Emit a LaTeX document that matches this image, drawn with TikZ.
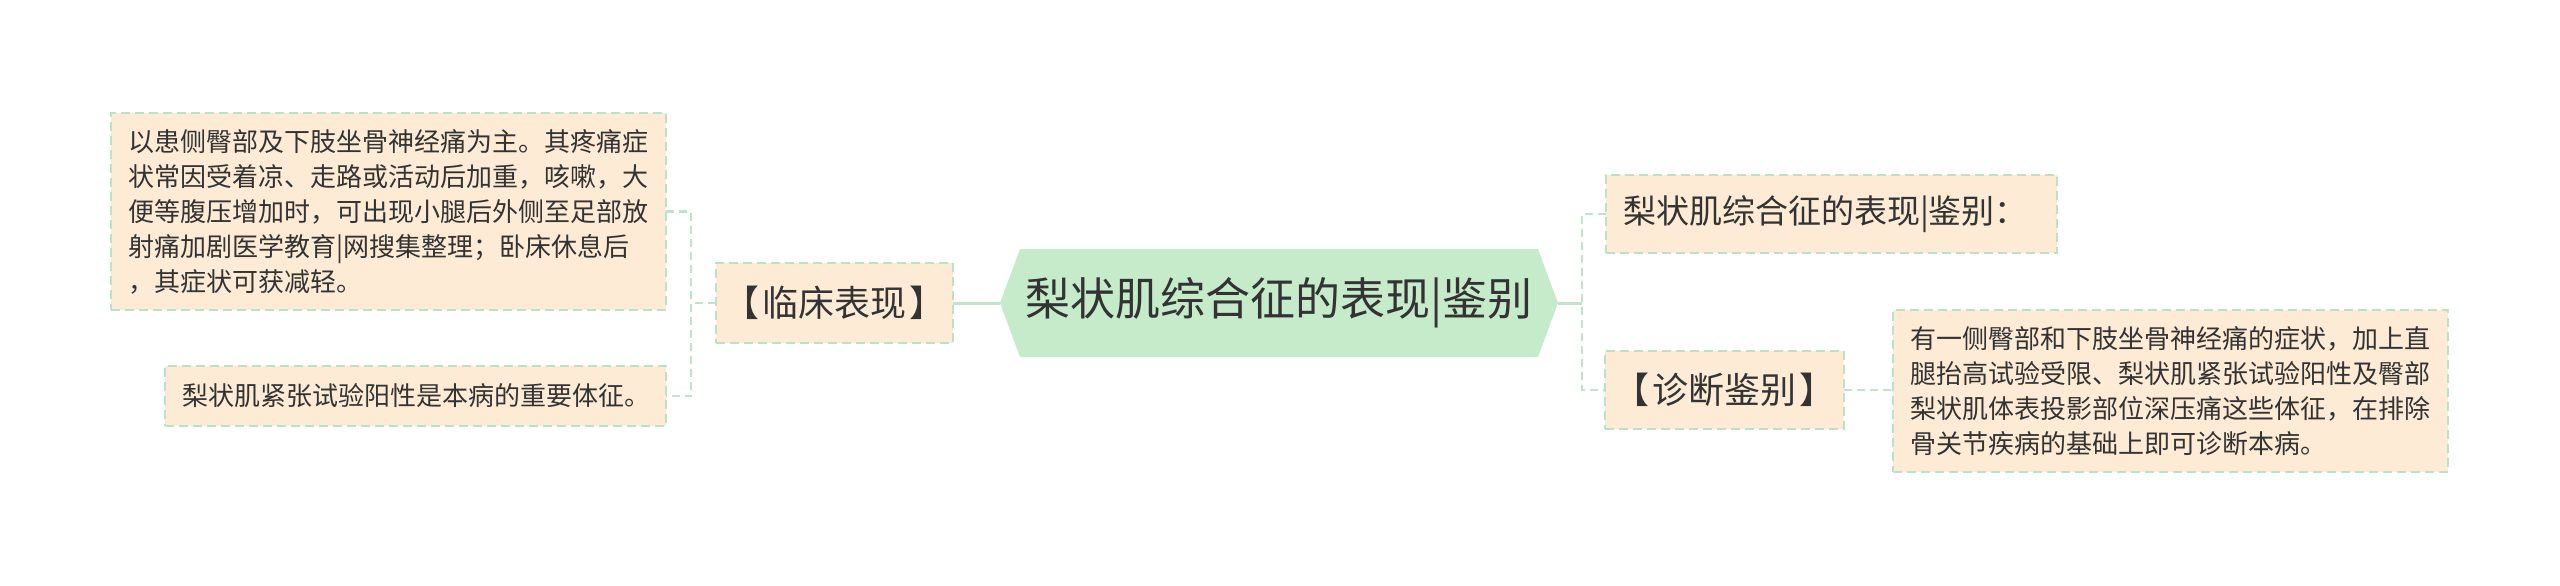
\documentclass[tikz,border=0pt]{standalone}
\usepackage{fontspec}
\setmainfont{Noto Sans CJK SC}
\usetikzlibrary{calc}
\definecolor{boxfill}{HTML}{FDEBD5}
\definecolor{boxline}{HTML}{B9E2C6}
\definecolor{rootfill}{HTML}{C6EBCB}
\definecolor{linkc}{HTML}{BDE5C6}
\definecolor{txt}{HTML}{333333}
\pgfdeclarelayer{background}
\pgfsetlayers{background,main}
\begin{document}
\begin{tikzpicture}[x=1pt,y=1pt,
  leaf/.style={draw=boxline, fill=boxfill, line width=2pt, dash pattern=on 9pt off 5pt,
    text=txt, inner sep=0pt, outer sep=0pt},
  para/.style={leaf, align=left, font=\fontsize{26pt}{35pt}\selectfont, inner xsep=17pt},
  topic/.style={leaf, align=center, font=\fontsize{33pt}{40pt}\selectfont},
  bracket/.style={topic, font=\fontsize{36pt}{42pt}\selectfont},
  rootnode/.style={inner sep=0pt, outer sep=0pt, text=txt, font=\fontsize{45pt}{54pt}\selectfont},
  solidlink/.style={draw=linkc, line width=3pt},
  dashlink/.style={draw=linkc, line width=2.5pt, dash pattern=on 8pt off 5pt}
]
\useasboundingbox (0,0) rectangle (2560,-586);

\node[rootnode, minimum width=558pt, minimum height=108pt] (root) at (1279,-303) {梨状肌综合征的表现|鉴别};

\node[bracket, minimum width=237pt, minimum height=80pt] (lc) at (834.5,-303) {【\kern3pt 临床表现\kern3pt】};

\node[para, text width=521pt, minimum height=197pt] (b1) at (388.5,-211.5)
  {以患侧臀部及下肢坐骨神经痛为主。其疼痛症\\
   状常因受着凉、走路或活动后加重，咳嗽，大\\
   便等腹压增加时，可出现小腿后外侧至足部放\\
   射痛加剧医学教育|网搜集整理；卧床休息后\\
   ，其症状可获减轻。};

\node[para, align=center, text width=467pt, minimum height=60pt] (b2) at (415.5,-396)
  {梨状肌紧张试验阳性是本病的重要体征。};

\node[topic, align=left, inner xsep=17pt, text width=417pt, minimum height=78pt] (r1) at (1831.5,-214)
  {梨状肌综合征的表现|鉴别：};

\node[bracket, minimum width=239pt, minimum height=78pt] (r2) at (1724.5,-390) {【\kern3pt 诊断鉴别\kern3pt】};

\node[para, text width=521pt, minimum height=162pt] (r3) at (2170.5,-391)
  {有一侧臀部和下肢坐骨神经痛的症状，加上直\\
   腿抬高试验受限、梨状肌紧张试验阳性及臀部\\
   梨状肌体表投影部位深压痛这些体征，在排除\\
   骨关节疾病的基础上即可诊断本病。};

\coordinate (lbus) at (691,-303);
\coordinate (rbus) at (1582,-303);

\begin{pgfonlayer}{background}
\fill[white] (0,0) rectangle (2560,-586);
\fill[rootfill] (root.west) -- ($(root.north west)+(20,0)$) -- ($(root.north east)+(-20,0)$)
  -- (root.east) -- ($(root.south east)+(-20,0)$) -- ($(root.south west)+(20,0)$) -- cycle;
\draw[solidlink] (root.west) -- (lc.east);
\draw[dashlink] (lc.west) -- (lbus);
\draw[dashlink] (b1.east) -- (b1.east -| lbus) -- (b2.east -| lbus) -- (b2.east);
\draw[solidlink] (root.east) -- (rbus);
\draw[dashlink] (r1.west) -- (r1.west -| rbus) -- (r2.west -| rbus) -- (r2.west);
\draw[dashlink] (r2.east) -- (r2.east -| r3.west);
\end{pgfonlayer}
\end{tikzpicture}
\end{document}
